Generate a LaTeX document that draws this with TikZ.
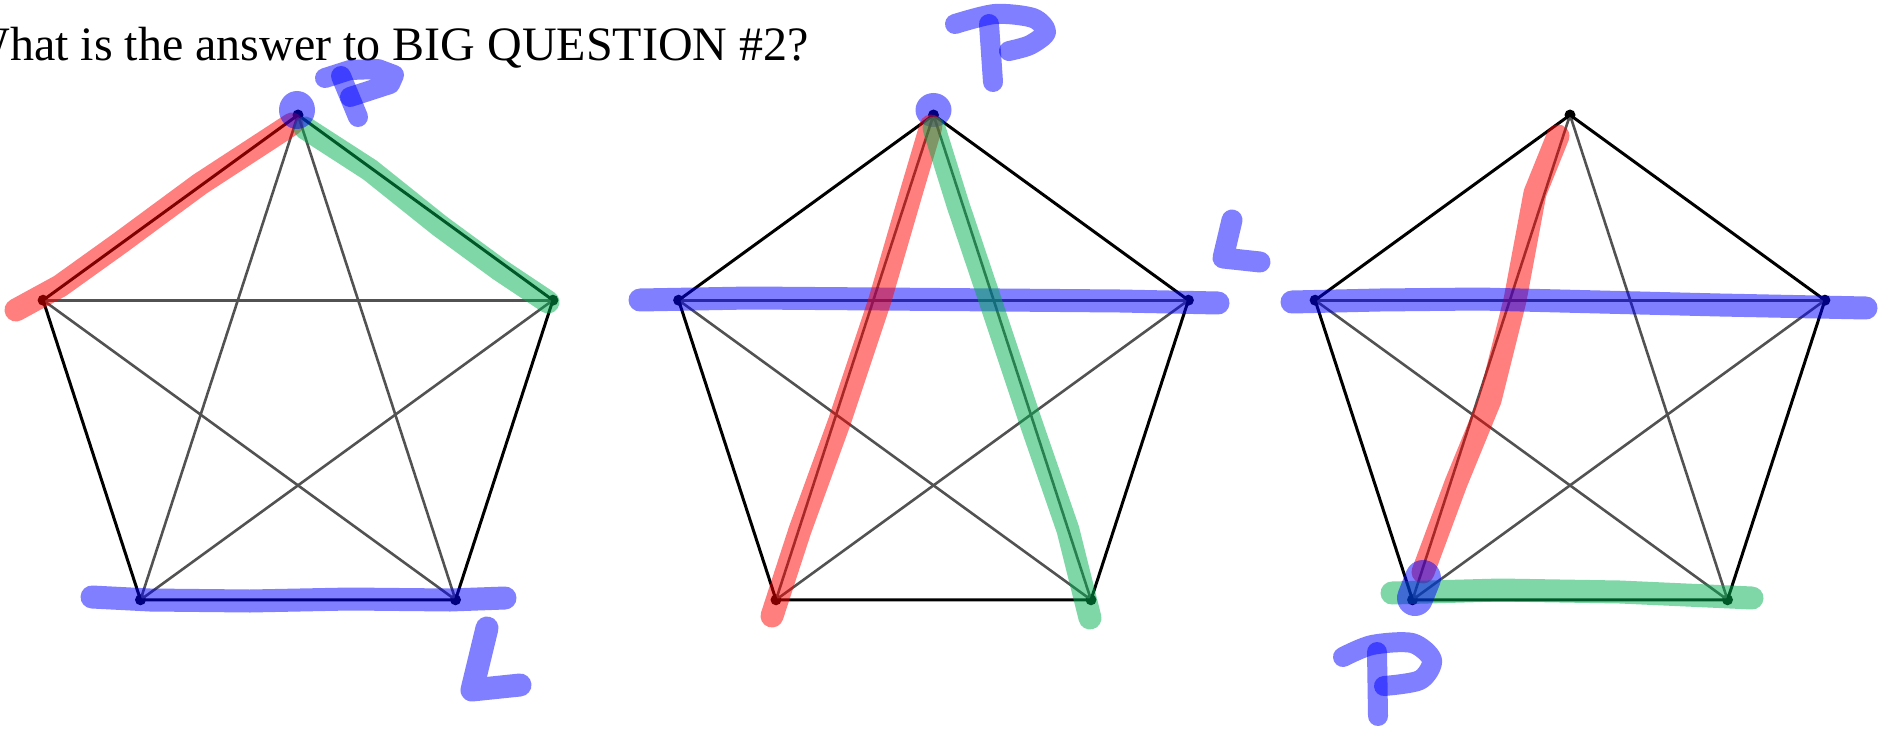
\documentclass[tikz,border=0pt]{standalone}
\usepackage{fontspec}
\setmainfont{Liberation Serif}
\definecolor{hlr}{RGB}{255,0,0}
\definecolor{hlg}{RGB}{0,175,80}
\definecolor{hlb}{RGB}{0,0,255}
\tikzset{
  vtx/.style={circle,fill=black,inner sep=0pt,minimum size=11pt},
  side/.style={draw=black,line width=3pt},
  diag/.style={draw=black!68,line width=2.6pt},
  hl/.style={opacity=0.5,line width=23pt,line cap=round,line join=round},
  hlred/.style={hl,draw=hlr},
  hlgreen/.style={hl,draw=hlg},
  hlblue/.style={hl,draw=hlb},
  pen/.style={opacity=0.5,line width=20pt,line cap=round,line join=round,draw=hlb},
}
\begin{document}
\begin{tikzpicture}[x=1pt,y=-1pt]
\useasboundingbox (0,0) rectangle (1894,730);
\node[anchor=base east,inner sep=0pt,font=\fontsize{48}{48}\selectfont] (title) at (809,61) {What is the answer to BIG QUESTION \#2?};
\foreach \n/\cx in {1/298,2/933.5,3/1570}{
  \node[vtx] (T\n) at (\cx,115) {};
  \node[vtx] (R\n) at (\cx+254.9,300.2) {};
  \node[vtx] (BR\n) at (\cx+157.5,599.8) {};
  \node[vtx] (BL\n) at (\cx-157.5,599.8) {};
  \node[vtx] (L\n) at (\cx-254.9,300.2) {};
  \draw[diag] (T\n.center) -- (BL\n.center);
  \draw[diag] (T\n.center) -- (BR\n.center);
  \draw[diag] (L\n.center) -- (R\n.center);
  \draw[diag] (L\n.center) -- (BR\n.center);
  \draw[diag] (R\n.center) -- (BL\n.center);
  \draw[side] (T\n.center) -- (R\n.center) -- (BR\n.center) -- (BL\n.center) -- (L\n.center) -- cycle;
}
% ---- pentagon 1 highlights
\draw[hlred] (16,310) -- (60,286) -- (120,243) -- (200,184) -- (292,124);
\draw[hlgreen] (305,128) -- (370,170) -- (440,226) -- (500,270) -- (548,302);
\fill[hlb,opacity=0.5] (297,110) ellipse [x radius=18, y radius=19];
\draw[pen] (341,76) -- (358,117);
\draw[pen] (325,78) -- (350,70) -- (378,69) -- (394,75) -- (390,84) -- (350,97);
\draw[hlblue] (92,597) -- (150,600) -- (250,601) -- (350,599) -- (450,600) -- (505,598);
\draw[pen,line width=23pt] (487,628) -- (472,690) -- (520,685);
% ---- pentagon 2 highlights
\fill[hlb,opacity=0.5] (933.5,110) ellipse [x radius=18, y radius=17];
\draw[pen] (989,24) -- (993,82);
\draw[pen] plot[smooth] coordinates {(955,24) (995,14) (1033,18) (1046,32) (1030,45) (1009,51)};
\draw[hlblue] (640,300) -- (750,298) -- (880,299) -- (1000,300) -- (1120,301) -- (1218,303);
\draw[pen,line width=21pt] (1232,220) -- (1223,258) -- (1260,262);
\draw[hlred] (931,126) -- (912,190) -- (880,300) -- (840,420) -- (800,530) -- (772,616);
\draw[hlgreen] (934,128) -- (958,205) -- (990,300) -- (1030,420) -- (1068,530) -- (1090,618);
% ---- pentagon 3 highlights
\draw[hlred] (1558,136) -- (1535,193) -- (1515,300) -- (1490,400) -- (1456,483) -- (1423,572);
\draw[hlblue] (1292,302) -- (1380,300) -- (1480,299) -- (1600,302) -- (1720,305) -- (1866,308);
\draw[hlgreen] (1392,593) -- (1500,590) -- (1620,592) -- (1752,598);
\draw[hlb,opacity=0.5,line width=36pt,line cap=round] (1423,578) -- (1415,598);
\draw[pen] (1377,652) -- (1378,716);
\draw[pen] plot[smooth] coordinates {(1343,657) (1372,645) (1412,643) (1432,660) (1420,680) (1384,686)};
\end{tikzpicture}
\end{document}
